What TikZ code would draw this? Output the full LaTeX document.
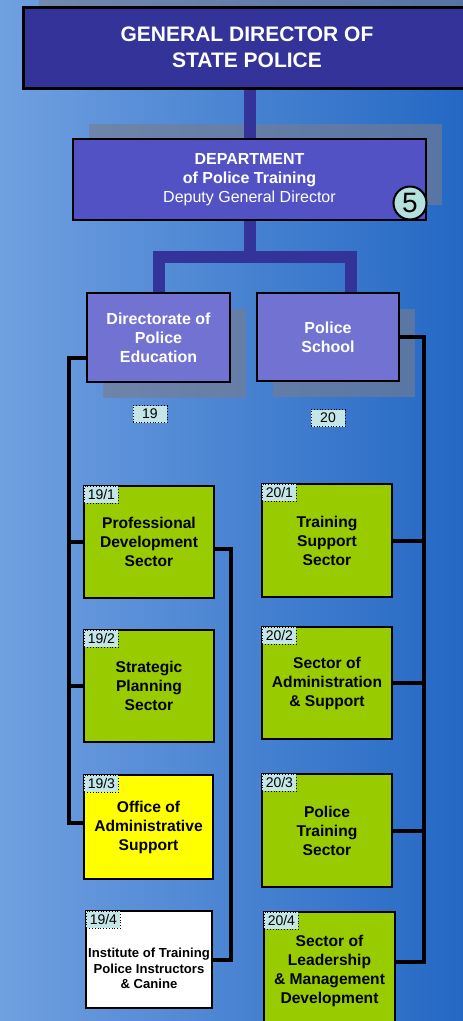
\documentclass[tikz,border=0pt]{standalone}
\usepackage{fontspec}
\setmainfont{Liberation Sans}
\usetikzlibrary{positioning, shadows}
\definecolor{cNavy}{RGB}{51,51,153}
\definecolor{cDept}{RGB}{82,82,196}
\definecolor{cBranch}{RGB}{114,114,210}
\definecolor{cLime}{RGB}{153,204,0}
\definecolor{cYellow}{RGB}{255,255,0}
\definecolor{cTag}{RGB}{196,230,230}
\definecolor{cDisc}{RGB}{180,225,220}
\definecolor{cBgL}{RGB}{112,160,224}
\definecolor{cBgR}{RGB}{36,104,196}
\definecolor{cShade}{RGB}{120,124,140}
\tikzset{
	chief/.style  ={rectangle, draw=black, line width=3pt, fill=cNavy, text=white, align=center, font=\bfseries\fontsize{21}{25.5}\selectfont, minimum width=448pt, minimum height=81pt, general shadow={fill=cShade, opacity=.6, shadow xshift=16pt, shadow yshift=15pt}},
	dept/.style   ={rectangle, draw=black, line width=1.5pt, fill=cDept, text=white, align=center, font=\fontsize{16}{19}\selectfont, minimum width=353pt, minimum height=81pt, general shadow={fill=cShade, opacity=.6, shadow xshift=16pt, shadow yshift=15pt}},
	numdisc/.style={circle, draw=black, line width=2pt, fill=cDisc, minimum size=33pt, inner sep=0pt, font=\fontsize{28}{28}\selectfont},
	branch/.style ={rectangle, draw=black, line width=2pt, fill=cBranch, text=white, align=center, font=\bfseries\fontsize{16}{19}\selectfont, minimum width=143pt, minimum height=89pt, general shadow={fill=cShade, opacity=.6, shadow xshift=16pt, shadow yshift=-16pt}},
	sector/.style ={rectangle, draw=black, line width=2pt, fill=cLime, align=center, font=\bfseries\fontsize{15.6}{19}\selectfont, minimum width=130pt, minimum height=112pt, inner sep=2pt},
	tagbox/.style ={rectangle, draw=black, dotted, line width=.8pt, fill=cTag, font=\fontsize{14}{14}\selectfont, minimum width=34pt, minimum height=17pt, inner sep=0pt},
	trunk/.style  ={line width=12pt, cNavy},
	link/.style   ={line width=4pt, black},
}
\begin{document}
\begin{tikzpicture}[x=1pt, y=-1pt]
	\useasboundingbox (0,0) rectangle (463,1021);
	\clip (0,0) rectangle (463,1021);
	\shade[left color=cBgL, right color=cBgR] (0,0) rectangle (463,1021);
	% top of the chart
	\node[chief] (gd) at (247,47.5) {GENERAL DIRECTOR OF\\STATE POLICE};
	\node[dept] (dpt) at (249.5,179.5) {\textbf{DEPARTMENT}\\\textbf{of Police Training}\\Deputy General Director};
	\node[numdisc] (n5) at (410,203) {5};
	% directorate and school
	\node[branch] (dir) at (158.5,337.5) {Directorate of\\Police\\Education};
	\node[branch, minimum width=142pt, minimum height=88pt] (sch) at (328,337) {Police\\School};
	\node[tagbox] (t19) at (150,414) {19};
	\node[tagbox] (t20) at (328,418) {20};
	% sectors
	\node[sector] (d1) at (149,542) {Professional\\Development\\Sector};
	\node[sector] (d2) at (149,686) {Strategic\\Planning\\Sector};
	\node[sector, fill=cYellow, minimum width=129pt, minimum height=104pt] (d3) at (148.5,827) {Office of\\Administrative\\Support};
	\node[sector, fill=white, minimum width=126pt, minimum height=97pt,
		label={[name=d4txt, yshift=-9pt, align=center, font=\bfseries\fontsize{13.1}{15.7}\selectfont]center:Institute of Training\\Police Instructors\\\& Canine}] (d4) at (149,959.5) {};
	\node[sector, minimum height=113pt] (s1) at (327,540.5) {Training\\Support\\Sector};
	\node[sector] (s2) at (327,683) {Sector of\\Administration\\\& Support};
	\node[sector, minimum height=113pt] (s3) at (327,830.5) {Police\\Training\\Sector};
	\node[sector, minimum width=131pt, minimum height=118pt] (s4) at (329.5,971) {Sector of\\Leadership\\\& Management\\Development};
	\foreach \b/\n in {d/19, s/20}
		\foreach \k in {1,...,4}
			\node[tagbox, below right=1pt and 1pt of \b\k.north west] (tag\b\k) {\n/\k};
	% trunk lines
	\draw[trunk] (dpt.north) -- (dpt.north |- gd.south);
	\draw[trunk] (dpt.south) -- ++(0,36) coordinate (fork) -| (dir.north);
	\draw[trunk] (fork) -| ([xshift=23pt]sch.north);
	% links to the sectors
	\draw[link] ([yshift=-20pt]dir.west) -- ++(-17,0) |- ([yshift=4pt]d3.west);
	\draw[link] (d1.west) -- ++(-14,0);
	\draw[link] (d2.west) -- ++(-14,0);
	\draw[link] ([yshift=-7pt]d1.east) -- ++(16,0) |- (d4.east);
	\draw[link] (sch.east) -- ++(24,0) |- ([yshift=9pt]s4.east);
	\foreach \k in {1,2,3}
		\draw[link] (s\k.east) -- ++(31,0);
\end{tikzpicture}
\end{document}
